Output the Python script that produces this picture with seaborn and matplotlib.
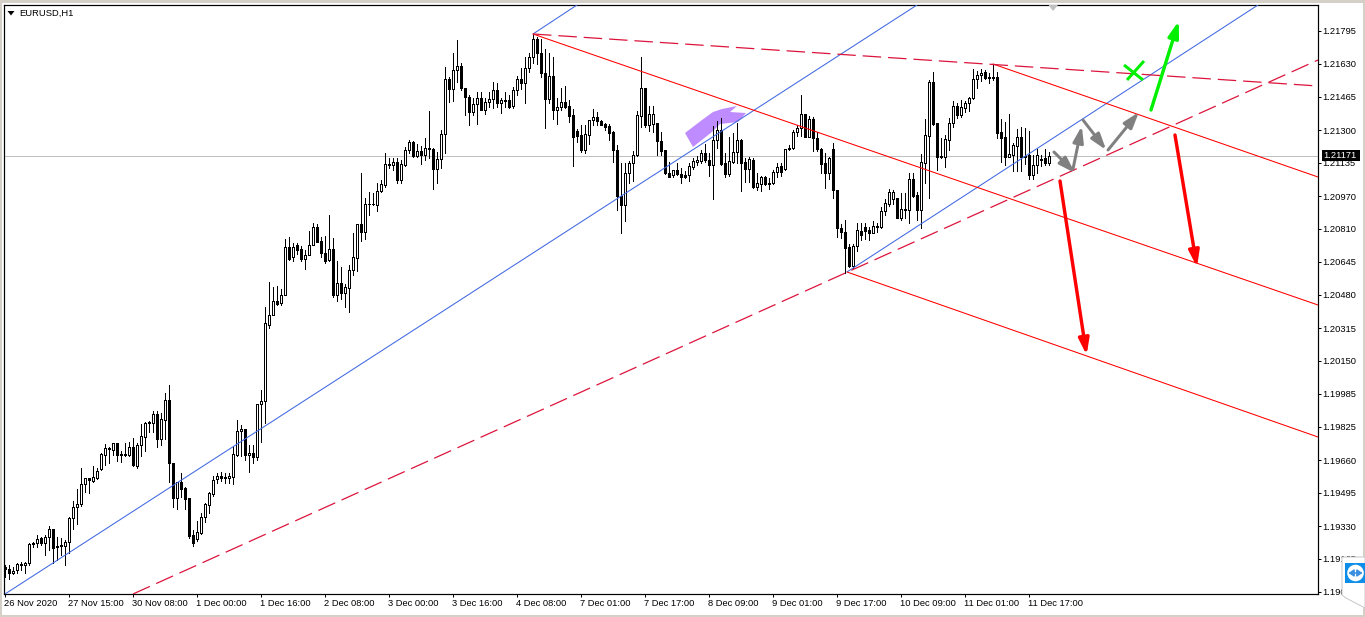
import matplotlib
matplotlib.use("Agg")
import matplotlib.pyplot as plt
from matplotlib.patches import Polygon, Rectangle, Circle
from matplotlib.transforms import ScaledTranslation
from matplotlib.colors import to_hex
import numpy as np
import pandas as pd
import seaborn as sns

# Hourly candles, prices in points (1e-5)
open_pts = [119115,119105,119085,119100,119125,119125,119135,119230,119235,119260,119235,119265,119305,119220,119220,119220,119240,119360,119415,119430,119530,119560,119545,119560,119605,119675,119705,119700,119735,119680,119680,119675,119715,119620,119725,119765,119840,119835,119880,119755,119850,119950,119635,119460,119540,119510,119460,119275,119255,119285,119365,119425,119480,119555,119570,119565,119560,119565,119675,119795,119805,119675,119685,119665,119930,119945,
120325,120375,120445,120435,120475,120715,120665,120725,120705,120655,120675,120725,120815,120745,120685,120650,120705,120475,120535,120485,120510,120600,120660,120830,120790,120930,120930,120925,120995,121025,121130,121125,121140,121050,121125,121200,121240,121170,121195,121175,121210,121205,121105,121155,121280,121555,121505,121600,121620,121510,121465,121390,121430,121460,121400,121440,121455,121500,121435,121450,121450,121420,121500,121555,121535,121610,121665,121755,121685,121585,121455,121570,121400,121415,121440,121420,121375,121295,121275,121200,121275,121350,121365,121345,121330,121320,121290,121200,120970,120925,121085,121135,121175,121370,121510,121325,121330,121335,121245,121200,121085,121075,121100,
121080,121075,121075,121115,121140,121145,121185,121150,121125,121250,121300,121135,121080,121140,121190,121250,121140,121105,121150,121015,121030,121065,121035,121035,121090,121120,121105,121205,121210,121290,121310,121380,121265,121355,121260,121205,121135,121085,121205,121000,120810,120790,120715,120620,120720,120795,120815,120800,120785,120820,120815,120895,120930,120955,120960,120860,120905,120900,121055,120975,120900,121135,121270,121540,121335,121170,121165,121250,121335,121420,121375,121410,121435,121460,121555,121575,121590,121565,121565,121565,121290,121265,121165,121175,121220,121265,121165,121175,121075,121125,121155,121160,121135]
high_pts = [119125,119125,119115,119135,119140,119140,119235,119240,119275,119265,119275,119320,119305,119265,119260,119250,119365,119445,119505,119610,119560,119560,119620,119610,119685,119730,119715,119735,119735,119695,119735,119740,119760,119735,119830,119840,119845,119895,119895,119885,119985,120025,119635,119540,119585,119515,119460,119300,119345,119385,119435,119490,119570,119585,119590,119585,119585,119715,119850,119825,119805,119725,119725,119930,120000,120415,
120540,120515,120520,120505,120755,120765,120735,120735,120720,120700,120795,120835,120830,120765,120770,120875,120760,120645,120615,120530,120625,120785,120830,121085,120960,120990,120985,121035,121050,121185,121160,121160,121160,121150,121215,121250,121245,121230,121220,121260,121395,121210,121190,121300,121615,121565,121685,121750,121635,121510,121475,121460,121490,121490,121460,121490,121540,121535,121460,121490,121475,121515,121570,121610,121665,121685,121780,121767,121755,121705,121685,121665,121460,121510,121520,121450,121405,121305,121325,121325,121350,121405,121390,121350,121335,121330,121295,121225,121135,121135,121145,121195,121395,121665,121510,121420,121420,121335,121290,121200,121140,121100,121135,
121110,121095,121135,121160,121170,121200,121230,121185,121320,121345,121360,121185,121265,121285,121335,121255,121160,121165,121160,121085,121070,121070,121060,121100,121135,121135,121205,121225,121300,121325,121475,121380,121370,121365,121290,121210,121185,121165,121235,121000,120830,120850,120730,120730,120835,120835,120835,120815,120845,120835,120915,120955,121005,121000,120960,120985,120985,121085,121085,120990,121180,121355,121550,121590,121335,121260,121275,121360,121445,121435,121450,121445,121465,121605,121595,121605,121600,121585,121625,121590,121355,121340,121380,121235,121305,121315,121310,121295,121175,121205,121175,121205,121190]
low_pts = [119065,119055,119080,119085,119100,119085,119125,119215,119215,119225,119175,119200,119135,119150,119175,119125,119185,119305,119330,119420,119490,119485,119540,119555,119600,119625,119635,119675,119645,119640,119670,119670,119620,119610,119670,119695,119790,119790,119715,119725,119755,119540,119415,119405,119465,119405,119260,119220,119245,119280,119340,119385,119470,119535,119545,119535,119535,119530,119670,119670,119650,119590,119635,119650,119740,119835,
120310,120375,120425,120425,120475,120650,120645,120680,120645,120605,120675,120725,120740,120665,120635,120645,120465,120445,120455,120415,120390,120575,120595,120745,120755,120875,120925,120895,120990,121015,121110,121100,121035,121035,121120,121185,121165,121165,121130,121150,121160,121005,121035,121110,121185,121440,121445,121540,121500,121375,121325,121375,121330,121400,121380,121415,121410,121415,121385,121415,121410,121410,121475,121505,121435,121590,121635,121628,121565,121310,121435,121355,121330,121400,121410,121340,121120,121240,121190,121185,121230,121325,121325,121325,121300,121250,121140,120900,120785,120845,121035,121045,121170,121315,121315,121295,121290,121175,121175,121080,121065,121065,121075,
121035,121060,121045,121105,121125,121135,121140,121070,120955,121210,121125,121065,121070,121135,121135,120995,121040,121040,121010,121000,120995,121025,121005,121030,121065,121070,121100,121200,121205,121270,121270,121265,121265,121195,121195,121085,121010,121055,120960,120765,120760,120585,120615,120610,120695,120750,120755,120750,120785,120790,120810,120875,120920,120930,120860,120850,120860,120835,120965,120850,120810,121035,120960,121325,121100,121160,121115,121200,121315,121360,121365,121390,121395,121455,121510,121545,121555,121535,121550,121260,121140,121125,121165,121095,121097,121095,121130,121055,121055,121085,121120,121125,121125]
close_pts = [119105,119085,119095,119130,119130,119135,119230,119235,119255,119235,119265,119305,119210,119215,119225,119240,119360,119415,119430,119530,119560,119550,119565,119595,119680,119710,119710,119735,119675,119675,119675,119715,119625,119725,119770,119835,119835,119880,119755,119855,119950,119635,119460,119540,119505,119455,119270,119235,119290,119365,119430,119485,119550,119570,119560,119560,119570,119680,119795,119805,119675,119685,119665,119930,119945,120335,
120375,120445,120430,120475,120715,120655,120715,120700,120655,120675,120725,120815,120740,120685,120645,120705,120475,120535,120485,120515,120600,120665,120830,120790,120930,120930,120930,120995,121030,121130,121125,121140,121050,121130,121200,121240,121170,121195,121175,121210,121205,121105,121155,121280,121555,121505,121600,121620,121510,121465,121390,121430,121460,121400,121440,121455,121500,121435,121450,121445,121415,121500,121555,121535,121610,121665,121755,121685,121585,121455,121570,121400,121415,121440,121415,121370,121265,121270,121200,121280,121350,121365,121345,121325,121315,121285,121200,120970,120925,121085,121135,121175,121375,121510,121325,121380,121380,121245,121195,121085,121065,121100,121080,
121065,121065,121120,121145,121150,121185,121150,121125,121250,121300,121130,121080,121145,121190,121250,121135,121105,121155,121015,121035,121065,121030,121030,121090,121115,121090,121205,121210,121290,121310,121380,121265,121355,121260,121205,121130,121085,121160,121000,120810,120790,120710,120620,120720,120800,120775,120795,120785,120820,120815,120895,120935,120990,120990,120860,120905,120900,121055,120970,120900,121140,121275,121540,121330,121165,121165,121255,121335,121420,121375,121415,121435,121460,121555,121575,121585,121560,121560,121560,121285,121260,121165,121180,121225,121265,121165,121170,121075,121125,121175,121150,121135,121170]

y_tick_labels = ["1.21795","1.21630","1.21465","1.21300","1.21135","1.20970","1.20810","1.20645","1.20480","1.20315","1.20150","1.19985","1.19825","1.19660","1.19495","1.19330","1.19165","1.19000"]
x_tick_labels = ["26 Nov 2020","27 Nov 15:00","30 Nov 08:00","1 Dec 00:00","1 Dec 16:00","2 Dec 08:00","3 Dec 00:00","3 Dec 16:00","4 Dec 08:00","7 Dec 01:00","7 Dec 17:00","8 Dec 09:00","9 Dec 01:00","9 Dec 17:00","10 Dec 09:00","11 Dec 01:00","11 Dec 17:00"]
x_tick_bars = [0,16,32,48,64,80,96,112,128,144,160,176,192,208,224,240,256]
bid_price = 1.21171

# Analyst objects in (bar, price)
line_id = ["b1","b1","b2","b2","b3","b3","r1","r1","r2","r2","r3","r3","d1","d1","d2","d2"]
line_bar = [0,228,132,143,210.5,313.25,132,328.25,247,328.25,210.5,328.25,132,328.25,32,328.25]
line_price = [1.1898,1.21925,1.2178,1.21925,1.2059,1.21925,1.2178,1.20425,1.2163,1.21065,1.2059,1.19765,1.2178,1.2152,1.1898,1.2165]
arrow_tail_bar = [263.75,292.5,286.5,262.25,267,269.5,275.75]
arrow_tail_price = [1.21045,1.21275,1.2140,1.2119,1.21105,1.2135,1.2120]
arrow_tip_bar = [270.4,298.0,293.45,267.5,269.2,275.3,283.5]
arrow_tip_price = [1.20175,1.20615,1.21845,1.21085,1.2132,1.2120,1.2139]
arrow_colour = ["#ff0000","#ff0000","#00f000","#808080","#808080","#808080","#808080"]
cross_bar = [[279.75,284.5],[280.5,284.75]]
cross_price = [[1.21625,1.2155],[1.2155,1.21645]]
purple_bar = [170,174.25,177,179.25,183,181.25,185.25,183.25,178.75,176.75,172]
purple_price = [1.21285,1.2135,1.2139,1.21405,1.2142,1.2139,1.21385,1.2134,1.2133,1.2129,1.21215]
marker_bar = [260.9,263.25,262]
marker_price = [1.21925,1.21925,1.21895]

W, H = 1365, 617
sns.set_theme(style="white")
plt.rcParams["font.family"] = ["Liberation Sans", "DejaVu Sans"]
plt.rcParams["lines.scale_dashes"] = False
px = 72 / 100
FS = 6.75

fig = plt.figure(figsize=(W/100, H/100), dpi=100, facecolor="white")
ax = fig.add_axes([4/W, (H-594)/H, 1314/W, 589/H], facecolor="white")
ax.set_xlim(-0.25, 328.25)
ax.set_ylim(1.1898, 1.21925)

df = pd.DataFrame({"o": open_pts, "h": high_pts, "l": low_pts, "c": close_pts}) / 1e5
df["bar"] = np.arange(len(df))
df["top"] = df[["o", "c"]].max(axis=1)
df["bot"] = df[["o", "c"]].min(axis=1)
df["up"] = df["c"] >= df["o"]

ax.add_patch(Polygon(list(zip(purple_bar, purple_price)), closed=True, fc="#bf8cff", ec="none", zorder=1))
ax.axhline(bid_price, color="#c0c0c0", lw=1*px, zorder=1.5, antialiased=False)

ax.vlines(df["bar"], df["l"], df["h"], color="black", lw=1*px, zorder=2, antialiased=False)
ax.bar(df["bar"], df["top"]-df["bot"], bottom=df["bot"], width=0.5,
       color=np.where(df["up"], "white", "black"), edgecolor="black",
       linewidth=1*px, zorder=3, antialiased=False)

lines = pd.DataFrame({"id": line_id, "bar": line_bar, "price": line_price})
line_style = {"b1": ("#4169e1", ""), "b2": ("#4169e1", ""), "b3": ("#4169e1", ""),
              "r1": ("#ff0000", ""), "r2": ("#ff0000", ""), "r3": ("#ff0000", ""),
              "d1": ("#dc143c", (13.3, 5)), "d2": ("#dc143c", (13.3, 5))}
sns.lineplot(data=lines, x="bar", y="price", hue="id", style="id",
             palette={k: v[0] for k, v in line_style.items()},
             dashes={k: v[1] for k, v in line_style.items()},
             estimator=None, sort=False, linewidth=1.05*px, legend=False, ax=ax, zorder=4)
for ln in ax.get_lines():
    if to_hex(ln.get_color()) == "#dc143c":
        ln.set_linewidth(1.25*px)

for xt, yt, xh, yh, col in zip(arrow_tail_bar, arrow_tail_price, arrow_tip_bar, arrow_tip_price, arrow_colour):
    thick = 3.4 if col != "#808080" else 3.0
    ax.annotate("", xy=(xh, yh), xytext=(xt, yt),
                arrowprops=dict(arrowstyle="-|>,head_length=0.8,head_width=0.26", color=col,
                                lw=thick*px, shrinkA=0, shrinkB=0), zorder=5)
for bx, py in zip(cross_bar, cross_price):
    ax.plot(bx, py, color="#00f000", lw=3*px, zorder=5, solid_capstyle="butt")

ax.add_patch(Polygon(list(zip(marker_bar, marker_price)), closed=True, fc="#c0c0c0", ec="none", zorder=5))

for s in ax.spines.values():
    s.set_visible(True)
    s.set_color("black")
    s.set_linewidth(1.2*px)

# Rounded scale labels sit every 0.00165 on the chart's own grid
first_tick, tick_step = 1.21795, 0.00165
ax.yaxis.tick_right()
ax.set_yticks([first_tick - k*tick_step for k in range(len(y_tick_labels))])
ax.set_yticklabels(y_tick_labels)
ax.set_xticks(x_tick_bars)
ax.set_xticklabels(x_tick_labels, ha="left")
ax.tick_params(axis="y", which="major", right=True, left=False, length=2.2, width=1*px, color="black",
               labelsize=FS, pad=0.8, labelcolor="black")
ax.tick_params(axis="x", which="major", bottom=True, length=2.2, width=1*px, color="black",
               labelsize=FS, pad=1.2, labelcolor="black")
shift = ScaledTranslation(-1.5/100, 0, fig.dpi_scale_trans)
for lab in ax.get_xticklabels():
    lab.set_transform(lab.get_transform() + shift)
ax.set_xlabel("")
ax.set_ylabel("")
ax.grid(False)

# symbol caption
fig.text(19/W, 1-13/H, "EURUSD,H1", fontsize=FS, color="black", va="center", ha="left")
fig.add_artist(Polygon([[7.5/W, 1-11/H], [14.5/W, 1-11/H], [11/W, 1-15.5/H]], closed=True, fc="black", ec="none"))

# bid price tag
fig.add_artist(Rectangle((1321.5/W, 1-161/H), 38/W, 11/H, fc="black", ec="none", zorder=8))
fig.text(1323.5/W, 1-155.5/H, f"{bid_price:.5f}", fontsize=FS, color="white", va="center", ha="left", zorder=9)

# window chrome
grey = "#d4d0c8"
for x0, y0, w, h in [(0, 0, W, 3), (0, 0, 2, H), (W-2, 0, 2, H), (0, H-2, W, 2)]:
    fig.add_artist(Rectangle((x0/W, 1-(y0+h)/H), w/W, h/H, fc=grey, ec="none", zorder=6))

# floating remote-support badge
fig.add_artist(Polygon([[1342/W, 1-557/H], [1365/W, 1-557/H], [1365/W, 1-608/H], [1346/W, 1-598/H], [1342/W, 1-595/H]],
                       closed=True, fc="white", ec="#c8c8c8", lw=1*px, zorder=10))
fig.add_artist(Rectangle((1345/W, 1-583/H), 20/W, 20/H, fc="#0e8ee9", ec="none", zorder=11))
badge = fig.add_axes([1345/W, 1-583/H, 20/W, 20/H], zorder=12)
badge.set_xlim(0, 20); badge.set_ylim(0, 20); badge.axis("off")
badge.patch.set_alpha(0)
badge.add_patch(Circle((10.5, 10), 8.3, fc="white", ec="none"))
badge.annotate("", xy=(3.4, 10), xytext=(17.6, 10),
               arrowprops=dict(arrowstyle="<|-|>,head_length=0.45,head_width=0.3", mutation_scale=7,
                               color="#3a8fe0", lw=1.5*px, shrinkA=0, shrinkB=0))

fig.savefig("out.png", dpi=100)
